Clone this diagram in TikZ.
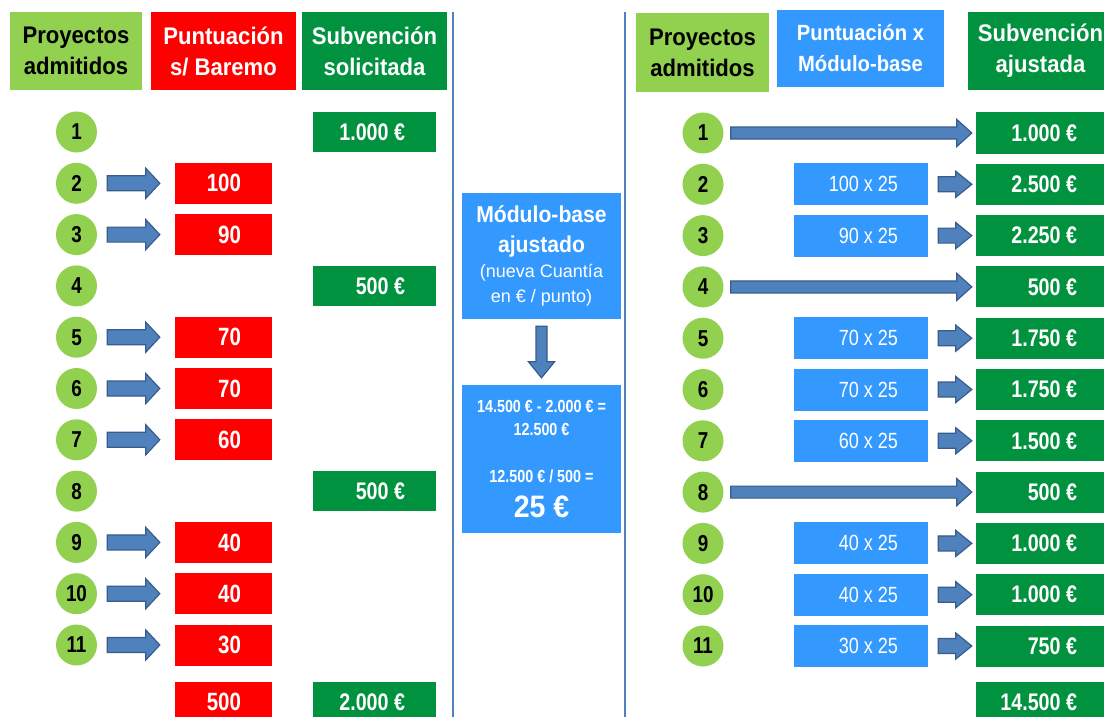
\documentclass[tikz,border=0pt]{standalone}
\usepackage{fontspec}
\setmainfont{Liberation Sans}
\newfontfamily\narrowf{Liberation Sans}[FakeStretch=0.82]
\newfontfamily\hdrf{Liberation Sans}[FakeStretch=0.92]
\usetikzlibrary{calc}
\definecolor{lgreen}{RGB}{146,208,80}
\definecolor{dgreen}{RGB}{0,146,63}
\definecolor{myred}{RGB}{255,0,0}
\definecolor{myblue}{RGB}{51,153,255}
\definecolor{arrfill}{RGB}{79,129,189}
\definecolor{arrline}{RGB}{56,93,138}
\definecolor{sepline}{RGB}{79,129,189}
\newcommand\harrow[5]{%
  \path[blockarrow] let \p1=#1, \p2=#2 in
    (\x1,\y1+#3) -- (\x2-#5,\y1+#3) -- (\x2-#5,\y1+#4) -- (\x2,\y1)
    -- (\x2-#5,\y1-#4) -- (\x2-#5,\y1-#3) -- (\x1,\y1-#3) -- cycle;}
\newcommand\varrow[5]{%
  \path[blockarrow] let \p1=#1, \p2=#2 in
    (\x1+#3,\y1) -- (\x1+#3,\y2+#5) -- (\x1+#4,\y2+#5) -- (\x1,\y2)
    -- (\x1-#4,\y2+#5) -- (\x1-#3,\y2+#5) -- (\x1-#3,\y1) -- cycle;}
\begin{document}
\begin{tikzpicture}[x=1pt,y=-1pt,
  hdr/.style={draw=none, align=center, inner sep=0pt, font=\hdrf\bfseries\fontsize{24}{31}\selectfont, text=white},
  circ/.style={circle, fill=lgreen, draw=none, minimum size=41pt, inner sep=0pt, font=\narrowf\bfseries\fontsize{23}{23}\selectfont, text=black},
  redbox/.style={fill=myred, draw=none, minimum width=97pt, minimum height=41pt, inner sep=0pt},
  lgbox/.style={fill=dgreen, draw=none, minimum width=123pt, minimum height=40pt, inner sep=0pt},
  bluebox/.style={fill=myblue, draw=none, minimum width=134pt, minimum height=42pt, inner sep=0pt},
  rgbox/.style={fill=dgreen, draw=none, minimum width=136pt, minimum height=41pt, inner sep=0pt},
  celltxt/.style={text=white, inner sep=0pt, font=\narrowf\bfseries\fontsize{25}{25}\selectfont},
  rcelltxt/.style={text=white, inner sep=0pt, font=\narrowf\bfseries\fontsize{24}{24}\selectfont},
  multxt/.style={text=white, inner sep=0pt, font=\narrowf\fontsize{22}{22}\selectfont},
  blockarrow/.style={fill=arrfill, draw=arrline, line width=1.2pt, line join=miter},
  sep/.style={draw=sepline, line width=2pt}]
\useasboundingbox (0,0) rectangle (1104,717);
\clip (0,0) rectangle (1104,717);
\fill[white] (0,0) rectangle (1104,717);

% separators
\coordinate (s1t) at (453,12); \coordinate (s1b) at (453,717);
\coordinate (s2t) at (625,12); \coordinate (s2b) at (625,717);
\draw[sep] (s1t) -- (s1b);
\draw[sep] (s2t) -- (s2b);

% left headers
\node[hdr, fill=lgreen, text=black, minimum width=132pt, minimum height=78pt] (lh1) at (76,51) {Proyectos\\admitidos};
\node[hdr, fill=myred, minimum width=145pt, minimum height=78pt] (lh2) at (223.5,51) {Puntuación\\s/ Baremo};
\node[hdr, fill=dgreen, minimum width=145pt, minimum height=78pt] (lh3) at (374.5,51) {Subvención\\solicitada};

% right headers
\node[hdr, fill=lgreen, text=black, minimum width=133pt, minimum height=79pt] (rh1) at (702.5,52.5) {Proyectos\\admitidos};
\node[hdr, fill=myblue, minimum width=167pt, minimum height=77pt, font=\hdrf\bfseries\fontsize{22}{31}\selectfont] (rh2) at (860.5,48.5) {Puntuación x\\Módulo-base};
\node[hdr, fill=dgreen, minimum width=145pt, minimum height=78pt] (rh3) at (1040.5,51) {Subvención\\ajustada};

% circles
\foreach \i in {1,...,11} {
  \node[circ] (c\i) at (76.5,{132+(\i-1)*51.3}) {\i};
  \node[circ] (d\i) at (703,{133+(\i-1)*51.3}) {\i};
}

% left red boxes
\foreach \i/\v in {2/100,3/90,5/70,6/70,7/60,9/40,10/40,11/30} {
  \node[redbox] (r\i) at (223.5,{132+(\i-1)*51.3}) {};
  \node[celltxt, anchor=east] (rt\i) at ($(r\i.east)+(-31,0)$) {\v};
  \harrow{($(c\i.east)+(10,0)$)}{($(r\i.west)+(-15,0)$)}{7.5pt}{15pt}{14pt}
}
\node[redbox] (rsum) at (223.5,702) {};
\node[celltxt, anchor=east] (rtsum) at ($(rsum.east)+(-31,0)$) {500};

% left green boxes
\foreach \i/\v in {1/1.000 €,4/500 €,8/500 €} {
  \node[lgbox] (g\i) at (374.5,{132+(\i-1)*51.3}) {};
  \node[rcelltxt, anchor=east] (gt\i) at ($(g\i.east)+(-31,0)$) {\v};
}
\node[lgbox] (gsum) at (374.5,702) {};
\node[rcelltxt, anchor=east] (gtsum) at ($(gsum.east)+(-31,0)$) {2.000 €};

% middle boxes
\node[fill=myblue, minimum width=159pt, minimum height=126pt, inner sep=0pt, align=center, text=white,
      font=\fontsize{18}{25}\selectfont] (m1) at (541.5,256)
  {{\hdrf\bfseries\fontsize{23}{30}\selectfont Módulo-base}\\[5pt]{\hdrf\bfseries\fontsize{23}{30}\selectfont ajustado}\\(nueva Cuantía\\en € / punto)};
\node[fill=myblue, minimum width=159pt, minimum height=148pt, inner sep=0pt, align=center, text=white,
      font=\narrowf\bfseries\fontsize{17.5}{23}\selectfont] (m2) at (541.5,459)
  {14.500 € - 2.000 € =\\12.500 €\\[24pt]12.500 € / 500 =\\[12pt]{\hdrf\bfseries\fontsize{31}{30}\selectfont 25 €}};
\varrow{($(m1.south)+(0,7)$)}{($(m2.north)+(0,-7)$)}{5.5pt}{13pt}{16pt}

% right side
\foreach \i/\v in {1/1.000 €,2/2.500 €,3/2.250 €,4/500 €,5/1.750 €,6/1.750 €,7/1.500 €,8/500 €,9/1.000 €,10/1.000 €,11/750 €} {
  \node[rgbox] (e\i) at (1044,{133+(\i-1)*51.3}) {};
  \node[rcelltxt, anchor=east] (et\i) at ($(e\i.east)+(-35,0)$) {\v};
}
\node[rgbox] (esum) at (1044,702) {};
\node[rcelltxt, anchor=east] (etsum) at ($(esum.east)+(-35,0)$) {14.500 €};

\foreach \i/\v in {2/100,3/90,5/70,6/70,7/60,9/40,10/40,11/30} {
  \node[bluebox] (b\i) at (861,{133+(\i-1)*51.3}) {};
  \node[multxt, anchor=east] (bt\i) at ($(b\i.east)+(-30,0)$) {\v\ x 25};
  \harrow{($(b\i.east)+(10,0)$)}{($(e\i.west)+(-4,0)$)}{7.5pt}{13pt}{16pt}
}
\foreach \i in {1,4,8} {
  \harrow{($(d\i.east)+(7,0)$)}{($(e\i.west)+(-4,0)$)}{6pt}{13.5pt}{15pt}
}
\end{tikzpicture}
\end{document}
